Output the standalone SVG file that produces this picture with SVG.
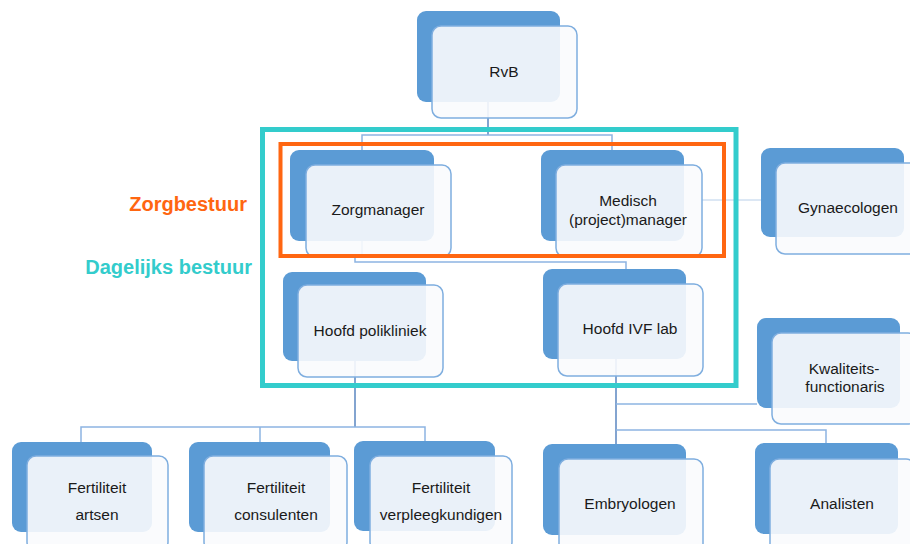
<svg xmlns="http://www.w3.org/2000/svg" width="910" height="544" viewBox="0 0 910 544">
<style>
.back{fill:#5B9BD5;}
.front{fill:#FAFBFD;fill-opacity:0.9;stroke:#7FAEDF;stroke-width:1.5;}
.t{font-family:"Liberation Sans",Arial,sans-serif;font-size:15.5px;fill:#1A1A1A;text-anchor:middle;}
.c{fill:none;stroke:#8DB4E2;stroke-width:1.5;}
.cd{fill:none;stroke:#5A86C0;stroke-width:1.5;}
.lbl{font-family:"Liberation Sans",Arial,sans-serif;font-size:20px;font-weight:bold;text-anchor:end;}
</style>
<rect width="910" height="544" fill="#FFFFFF"/>
<g id="connectors">
<path class="cd" d="M488,102 V135"/>
<path class="c" d="M362,150 V135 H612 V150"/>
<path class="c" d="M362,241 V257"/>
<path class="c" d="M355,256 V262 H626 V269"/>
<path class="cd" d="M355,361 V427"/>
<path class="c" d="M81,442 V427 H425 V441"/>
<path class="c" d="M260,427 V442"/>
<path class="cd" d="M616,359 V444"/>
<path class="c" d="M616,404 H757"/>
<path class="c" d="M616,430 H826 V443"/>
<path class="c" style="stroke:#B9D0EA;stroke-width:1" d="M702,200 H761"/>
</g>
<g id="rvb"><rect class="back" x="417" y="11" width="143" height="91" rx="9"/><rect class="front" x="432" y="26" width="145" height="92" rx="9"/><text class="t" x="504" y="77">RvB</text></g>
<g id="zorgmanager"><rect class="back" x="290" y="150" width="144" height="91" rx="9"/><rect class="front" x="306" y="165" width="145" height="92" rx="9"/><text class="t" x="378" y="215">Zorgmanager</text></g>
<g id="medisch"><rect class="back" x="541" y="150" width="143" height="91" rx="9"/><rect class="front" x="556" y="165" width="146" height="92" rx="9"/><text class="t" x="628" y="206">Medisch</text><text class="t" x="628" y="225">(project)manager</text></g>
<g id="gynaecologen"><rect class="back" x="761" y="148" width="143" height="89" rx="9"/><rect class="front" x="776" y="163" width="145" height="91" rx="9"/><text class="t" x="848" y="213">Gynaecologen</text></g>
<g id="hoofd-polikliniek"><rect class="back" x="283" y="272" width="143" height="89" rx="9"/><rect class="front" x="298" y="285" width="145" height="92" rx="9"/><text class="t" x="370" y="336">Hoofd polikliniek</text></g>
<g id="hoofd-ivf"><rect class="back" x="543" y="269" width="143" height="90" rx="9"/><rect class="front" x="558" y="284" width="145" height="92" rx="9"/><text class="t" x="630" y="334">Hoofd IVF lab</text></g>
<g id="kwaliteit"><rect class="back" x="757" y="318" width="143" height="90" rx="9"/><rect class="front" x="772" y="333" width="145" height="91" rx="9"/><text class="t" x="844" y="374">Kwaliteits-</text><text class="t" x="845" y="392">functionaris</text></g>
<g id="fert-artsen"><rect class="back" x="12" y="442" width="140" height="90" rx="9"/><rect class="front" x="27" y="456" width="141" height="95" rx="9"/><text class="t" x="97" y="493">Fertiliteit</text><text class="t" x="97" y="520">artsen</text></g>
<g id="fert-consulenten"><rect class="back" x="189" y="442" width="141" height="90" rx="9"/><rect class="front" x="204" y="456" width="143" height="95" rx="9"/><text class="t" x="276" y="493">Fertiliteit</text><text class="t" x="276" y="520">consulenten</text></g>
<g id="fert-verpleeg"><rect class="back" x="354" y="441" width="141" height="90" rx="9"/><rect class="front" x="370" y="456" width="142" height="95" rx="9"/><text class="t" x="441" y="493">Fertiliteit</text><text class="t" x="441" y="520">verpleegkundigen</text></g>
<g id="embryologen"><rect class="back" x="543" y="444" width="143" height="91" rx="9"/><rect class="front" x="559" y="459" width="144" height="95" rx="9"/><text class="t" x="630" y="509">Embryologen</text></g>
<g id="analisten"><rect class="back" x="755" y="443" width="143" height="91" rx="9"/><rect class="front" x="770" y="459" width="145" height="95" rx="9"/><text class="t" x="842" y="509">Analisten</text></g>
<g id="zorgbestuur"><rect x="280.5" y="144" width="443.5" height="112" fill="none" stroke="#FF6611" stroke-width="4"/><text class="lbl" x="247" y="211" fill="#FF6611">Zorgbestuur</text></g>
<g id="dagelijks-bestuur"><rect x="262.5" y="129.5" width="473.5" height="256" fill="none" stroke="#33CCCC" stroke-width="5"/><text class="lbl" x="252" y="274" fill="#33CCCC">Dagelijks bestuur</text></g>
</svg>
